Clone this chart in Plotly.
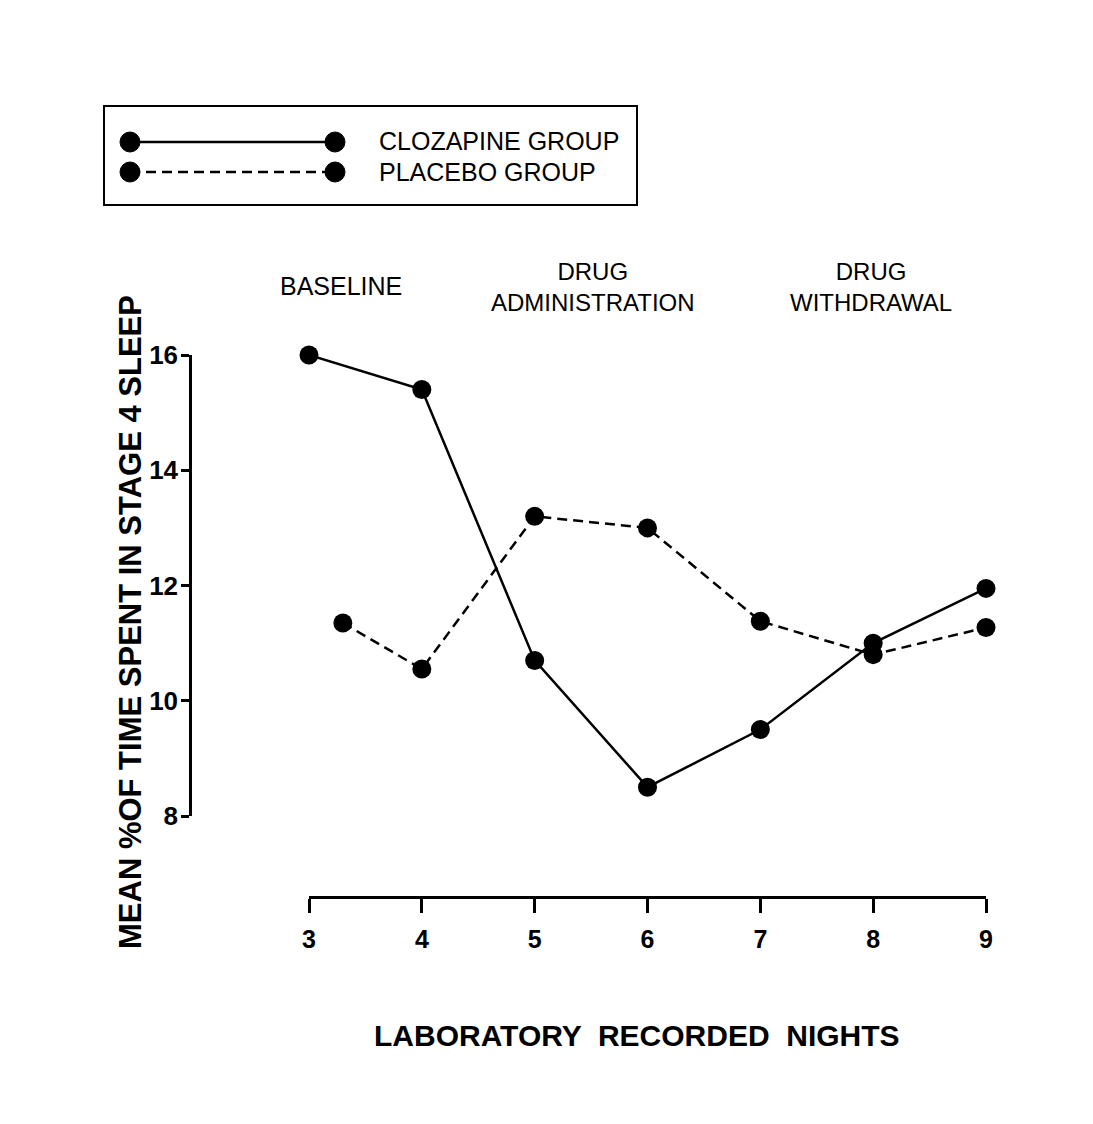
import plotly.graph_objects as go

W, H = 1093, 1124

nights = [3, 4, 5, 6, 7, 8, 9]
clozapine = [16.0, 15.4, 10.7, 8.5, 9.5, 11.0, 11.95]
placebo_nights = [3.3, 4, 5, 6, 7, 8, 9]
placebo = [11.35, 10.55, 13.2, 13.0, 11.38, 10.8, 11.27]
y_ticks = [8, 10, 12, 14, 16]
x_ticks = [3, 4, 5, 6, 7, 8, 9]

FONT = "Liberation Sans, Arial, Helvetica, sans-serif"
DASH = "10px,6px"

def px(x):
    return x / W

def py(y):
    return 1 - y / H

fig = go.Figure()
fig.add_trace(go.Scatter(
    x=nights, y=clozapine, mode="lines+markers", name="CLOZAPINE GROUP",
    line=dict(color="black", width=2.5),
    marker=dict(color="black", size=19), cliponaxis=False))
fig.add_trace(go.Scatter(
    x=placebo_nights, y=placebo, mode="lines+markers", name="PLACEBO GROUP",
    line=dict(color="black", width=2.5, dash=DASH),
    marker=dict(color="black", size=19), cliponaxis=False))

shapes = []
# legend box
shapes.append(dict(type="rect", xref="paper", yref="paper",
                   x0=px(104), x1=px(637), y0=py(205), y1=py(106),
                   line=dict(color="black", width=2)))
for yy, dash in [(142, "solid"), (172, DASH)]:
    shapes.append(dict(type="line", xref="paper", yref="paper",
                       x0=px(130), x1=px(335), y0=py(yy), y1=py(yy),
                       line=dict(color="black", width=2.5, dash=dash)))
    for cx in (130, 335):
        r = 10
        shapes.append(dict(type="circle", xref="paper", yref="paper",
                           x0=px(cx - r), x1=px(cx + r), y0=py(yy + r), y1=py(yy - r),
                           fillcolor="black", line=dict(color="black", width=1)))

annotations = [
    dict(text="CLOZAPINE GROUP", x=px(377), y=py(141), xanchor="left", yanchor="middle",
         font=dict(size=25, color="black", family=FONT)),
    dict(text="PLACEBO GROUP", x=px(377), y=py(172), xanchor="left", yanchor="middle",
         font=dict(size=25, color="black", family=FONT)),
    dict(text="BASELINE", x=px(341), y=py(286), xanchor="center", yanchor="middle",
         font=dict(size=25, color="black", family=FONT)),
    dict(text="DRUG<br>ADMINISTRATION", x=px(593), y=py(287), xanchor="center", yanchor="middle",
         font=dict(size=24, color="black", family=FONT)),
    dict(text="DRUG<br>WITHDRAWAL", x=px(871), y=py(287), xanchor="center", yanchor="middle",
         font=dict(size=24, color="black", family=FONT)),
    dict(text="<b>MEAN %OF TIME SPENT IN STAGE 4 SLEEP</b>", x=px(130), y=py(622),
         xanchor="center", yanchor="middle", textangle=-90,
         font=dict(size=31, color="black", family=FONT)),
    dict(text="<b>LABORATORY  RECORDED  NIGHTS</b>", x=px(637), y=py(1035),
         xanchor="center", yanchor="middle",
         font=dict(size=30, color="black", family=FONT)),
]
for a in annotations:
    a.update(xref="paper", yref="paper", showarrow=False)

fig.update_layout(
    width=W, height=H, autosize=False,
    margin=dict(l=0, r=0, t=0, b=0, pad=0, autoexpand=False),
    paper_bgcolor="white", plot_bgcolor="white",
    showlegend=False,
    shapes=shapes, annotations=annotations,
    font=dict(family=FONT, color="black"),
    xaxis=dict(domain=[px(309), px(986)], range=[3, 9], anchor="free", position=py(897),
               automargin=False, ticklabelstandoff=5,
               showline=True, linecolor="black", linewidth=2.5, showgrid=False, zeroline=False,
               tickvals=x_ticks, ticks="outside", ticklen=14, tickwidth=2.5, tickcolor="black",
               tickfont=dict(size=25, family=FONT, color="black", weight="bold")),
    yaxis=dict(domain=[py(816), py(355)], range=[8, 16], anchor="free", position=px(190),
               automargin=False, ticklabelstandoff=-2,
               showline=True, linecolor="black", linewidth=2.5, showgrid=False, zeroline=False,
               tickvals=y_ticks, ticks="outside", ticklen=8, tickwidth=2.5, tickcolor="black",
               tickfont=dict(size=26, family=FONT, color="black", weight="bold")),
)

fig.write_html("out.html")
